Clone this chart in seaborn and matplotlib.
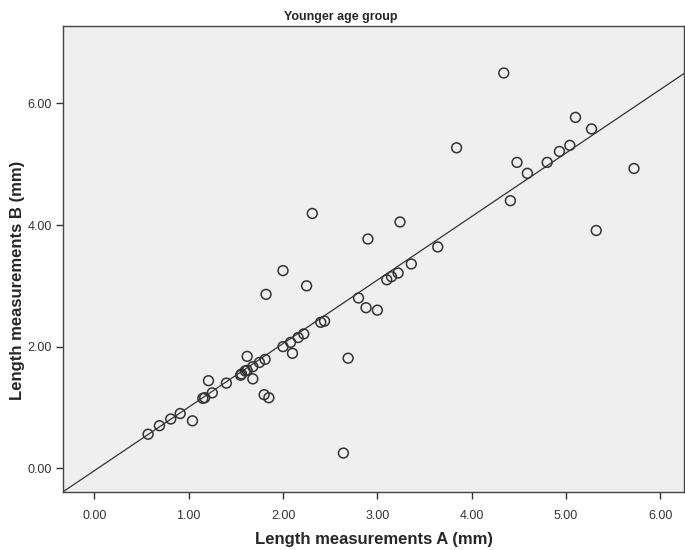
"""Younger age group: length measurements A vs B scatter with fit line."""

import matplotlib
matplotlib.use("Agg")
import matplotlib.pyplot as plt
import pandas as pd
import seaborn as sns

length_a = [0.57, 0.69, 0.81, 0.91, 1.04, 1.15, 1.17, 1.21, 1.25, 1.40,
            1.55, 1.56, 1.60, 1.62, 1.62, 1.68, 1.75, 1.81, 1.68, 1.80,
            1.85, 2.00, 2.08, 2.10, 2.16, 2.22, 2.40, 2.44, 2.31, 3.24,
            2.90, 2.00, 2.25, 1.82, 2.80, 2.88, 3.00, 3.10, 3.15, 3.22,
            3.36, 3.64, 2.64, 2.69, 4.34, 3.84, 5.10, 5.27, 4.48, 4.59,
            4.80, 4.93, 5.04, 4.41, 5.72, 5.32]
length_b = [0.56, 0.70, 0.81, 0.90, 0.78, 1.15, 1.16, 1.44, 1.24, 1.40,
            1.53, 1.55, 1.60, 1.61, 1.84, 1.67, 1.74, 1.79, 1.47, 1.21,
            1.16, 2.00, 2.07, 1.89, 2.15, 2.21, 2.40, 2.42, 4.19, 4.05,
            3.77, 3.25, 3.00, 2.86, 2.80, 2.64, 2.60, 3.10, 3.15, 3.21,
            3.36, 3.64, 0.25, 1.81, 6.50, 5.27, 5.77, 5.58, 5.03, 4.85,
            5.03, 5.21, 5.31, 4.40, 4.93, 3.91]

# fit line (intercept, slope)
fit_line = [-0.04, 1.045]

x_ticks = [0, 1, 2, 3, 4, 5, 6]
y_ticks = [0, 2, 4, 6]

df = pd.DataFrame({"a": length_a, "b": length_b})

sns.set_style("white")
plt.rcParams["font.family"] = ["Liberation Sans", "DejaVu Sans"]

fig = plt.figure(figsize=(6.85, 5.5), dpi=100)
ax = fig.add_axes([0.0924, 0.1055, 0.9061, 0.8469])
ax.set_facecolor("#efefef")

ax.axline((0, fit_line[0]), slope=fit_line[1], color="#333333", lw=0.9, zorder=2)
sns.scatterplot(data=df, x="a", y="b", ax=ax, s=50, marker="o",
                facecolor="none", edgecolor="#333333", linewidth=1.1, zorder=3)

ax.set_xlim(-0.329, 6.25)
ax.set_ylim(-0.39, 7.27)
ax.set_xticks(x_ticks)
ax.set_yticks(y_ticks)
ax.set_xticklabels([f"{v:.2f}" for v in x_ticks])
ax.set_yticklabels([f"{v:.2f}" for v in y_ticks])
ax.tick_params(axis="both", direction="out", length=5, width=1,
               color="#333333", labelsize=9, labelcolor="#333333")
ax.tick_params(axis="x", pad=8)
ax.tick_params(axis="y", pad=3)
ax.tick_params(bottom=True, left=True)

for sp in ax.spines.values():
    sp.set_color("#444444")
    sp.set_linewidth(1.0)

ax.set_xlabel("Length measurements A (mm)", fontsize=12, fontweight="bold",
              labelpad=7)
ax.set_ylabel("Length measurements B (mm)", fontsize=12, fontweight="bold")
ax.yaxis.set_label_coords(-0.062, 0.455)

fig.text(0.498, 1 - 17 / 550, "Younger age group", ha="center", va="center",
         fontsize=9, fontweight="bold")

fig.savefig("out.png", dpi=100)
